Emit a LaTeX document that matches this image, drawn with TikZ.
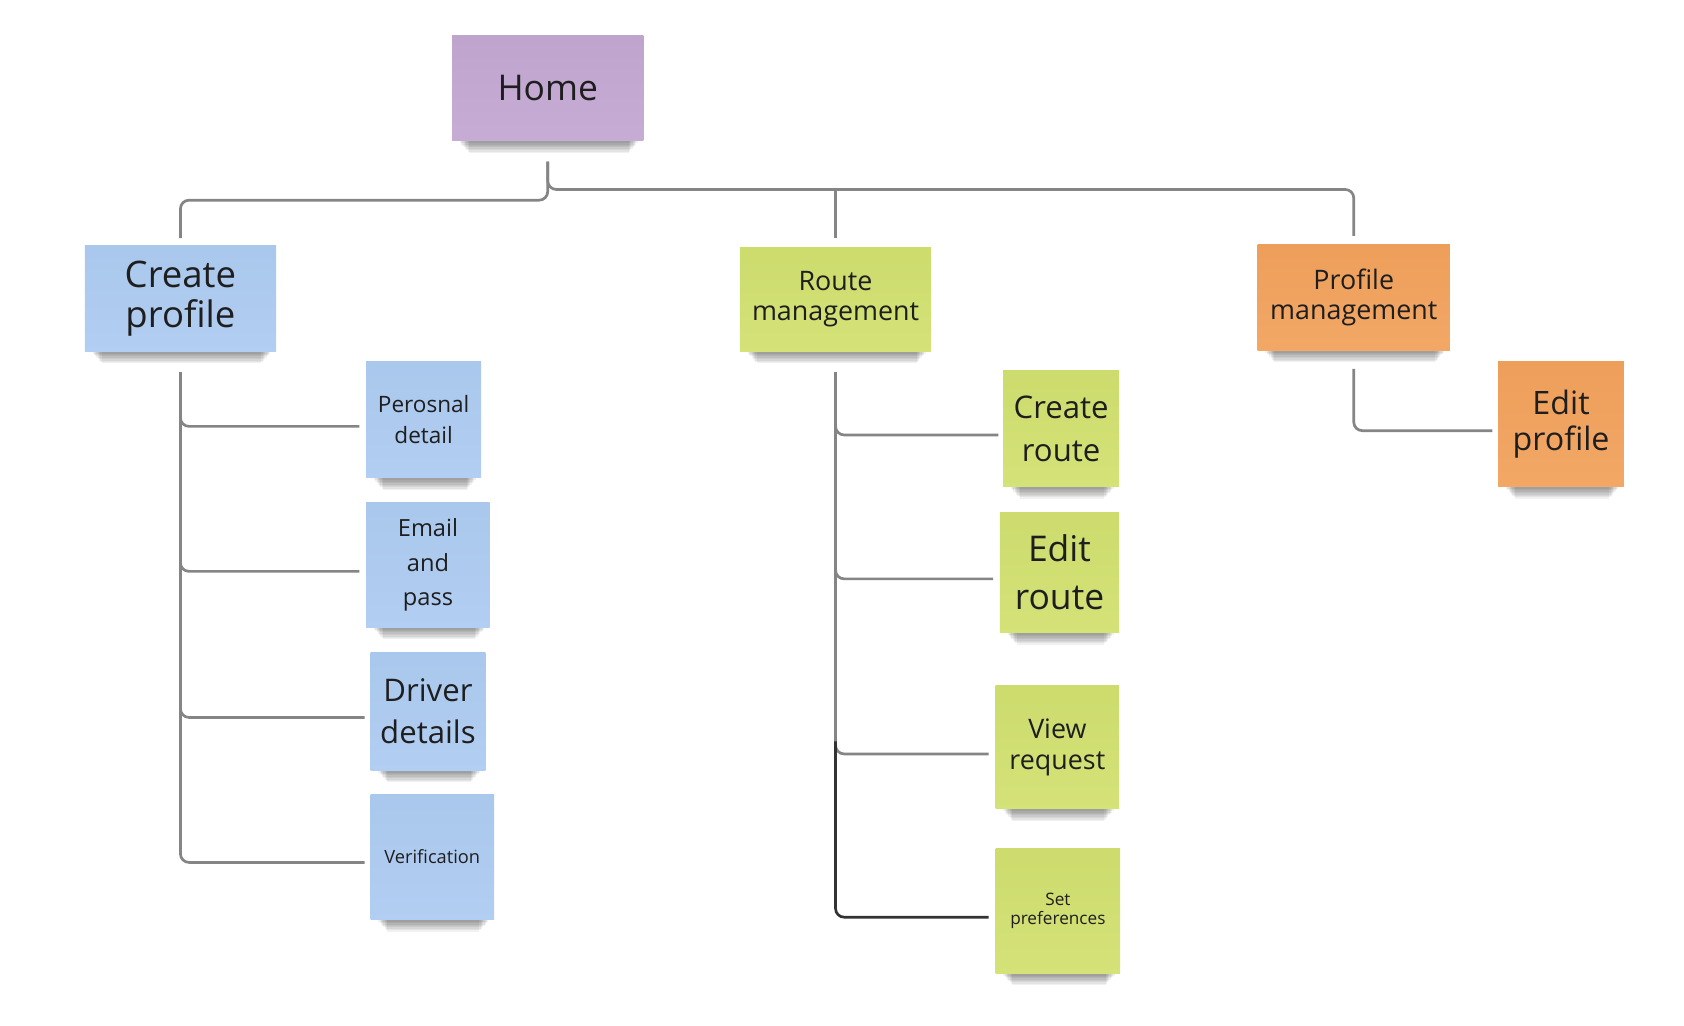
\documentclass[tikz,border=0pt]{standalone}
\usepackage{fontspec}
\setmainfont{Open Sans}
\definecolor{cHome}{HTML}{C3A7D2}
\definecolor{cBlue}{HTML}{ADCBF1}
\definecolor{cGreen}{HTML}{D1E06F}
\definecolor{cOrange}{HTML}{F2A25C}
\definecolor{cLine}{HTML}{858585}
\definecolor{cDark}{HTML}{333333}
\definecolor{cText}{HTML}{1E1E1E}
\tikzset{
  note/.style={draw=none, inner sep=0pt, align=center, text=cText},
  conn/.style={draw=cLine, line width=1.25pt, rounded corners=4pt},
  darkconn/.style={draw=cDark, line width=1.25pt, rounded corners=4pt},
}
\newcommand\stickynote[9]{%
  \pgfmathsetmacro\snw{(#4-#2)*0.5}%
  \pgfmathsetmacro\snh{(#5-#3)*0.5}%
  \pgfmathsetmacro\snfs{#7*0.5}%
  \pgfmathsetmacro\snbs{#8*0.5}%
  \foreach \k in {1,...,8}{\fill[black,opacity=0.055] ({#2+6+1.2*\k},{#5-3}) rectangle ({#4-4-1.2*\k},{#5+1+1.3*\k});}
  \node[note, top color=#6!98!black, bottom color=#6!94!white,
        minimum width=\snw pt, minimum height=\snh pt,
        font=\fontsize{\snfs pt}{\snbs pt}\selectfont] (#1) at ({(#2+#4)/2},{(#3+#5)/2}) {#9};
}
\begin{document}
\begin{tikzpicture}[x=0.5pt,y=-0.5pt]
\useasboundingbox[fill=white] (0,0) rectangle (1568,955);

% notes
\stickynote{home}{421}{33}{599}{131}{cHome}{33}{40}{Home}
\stickynote{cprof}{79}{229}{257}{327}{cBlue}{34}{37}{Create\\profile}
\stickynote{rmgmt}{689}{230}{867}{327}{cGreen}{25}{28}{Route\\management}
\stickynote{pmgmt}{1171}{228}{1350}{326}{cOrange}{25}{28}{Profile\\management}
\stickynote{eprof}{1395}{337}{1512}{453}{cOrange}{30}{34}{Edit\\profile}
\stickynote{pers}{341}{337}{448}{445}{cBlue}{21}{29}{Perosnal\\detail}
\stickynote{email}{341}{468}{456}{584}{cBlue}{22}{32}{Email\\and\\pass}
\stickynote{driver}{345}{608}{452}{717}{cBlue}{29}{39}{Driver\\details}
\stickynote{verif}{345}{740}{460}{856}{cBlue}{17}{20}{Verification}
\stickynote{croute}{934}{345}{1042}{453}{cGreen}{29}{40}{Create\\route}
\stickynote{eroute}{931}{477}{1042}{589}{cGreen}{33}{45}{Edit\\route}
\stickynote{vreq}{927}{638}{1042}{753}{cGreen}{25}{29}{View\\request}
\stickynote{setp}{927}{790}{1043}{906}{cGreen}{16}{18}{Set\\preferences}

% connectors from Home
\coordinate (h0) at ([yshift=-9.5pt]home.south);
\coordinate (hj) at ([yshift=-22.5pt]home.south);
\draw[conn] (h0) -- ++(0,36) -| ([yshift=3.5pt]cprof.north);
\draw[conn] (h0) -- (hj) -| ([yshift=4pt]pmgmt.north);
\draw[conn] (rmgmt.north |- hj) -- ([yshift=4pt]rmgmt.north);

% Create profile children
\coordinate (c0) at ([yshift=-9.5pt]cprof.south);
\draw[conn] (c0) |- ([xshift=-3pt,yshift=-3pt]pers.west);
\draw[conn] (c0) |- ([xshift=-3pt,yshift=-3pt]email.west);
\draw[conn] (c0) |- ([xshift=-2.5pt,yshift=-2.75pt]driver.west);
\draw[conn] (c0) |- ([xshift=-2.5pt,yshift=-2.5pt]verif.west);

% Route management children
\coordinate (r0) at ([yshift=-9.5pt]rmgmt.south);
\draw[conn] (r0) |- ([xshift=-2pt,yshift=-3pt]croute.west);
\draw[conn] (r0) |- ([xshift=-3pt,yshift=-3pt]eroute.west);
\draw[conn] (r0) |- ([xshift=-3pt,yshift=-3.25pt]vreq.west);
\coordinate (rk) at ([yshift=-172pt]r0);
\draw[darkconn] (rk) |- ([xshift=-3pt,yshift=-3pt]setp.west);

% Profile management child
\coordinate (p0) at ([yshift=-8.5pt]pmgmt.south);
\draw[conn] (p0) |- ([xshift=-2.5pt,yshift=-3pt]eprof.west);
\end{tikzpicture}
\end{document}
